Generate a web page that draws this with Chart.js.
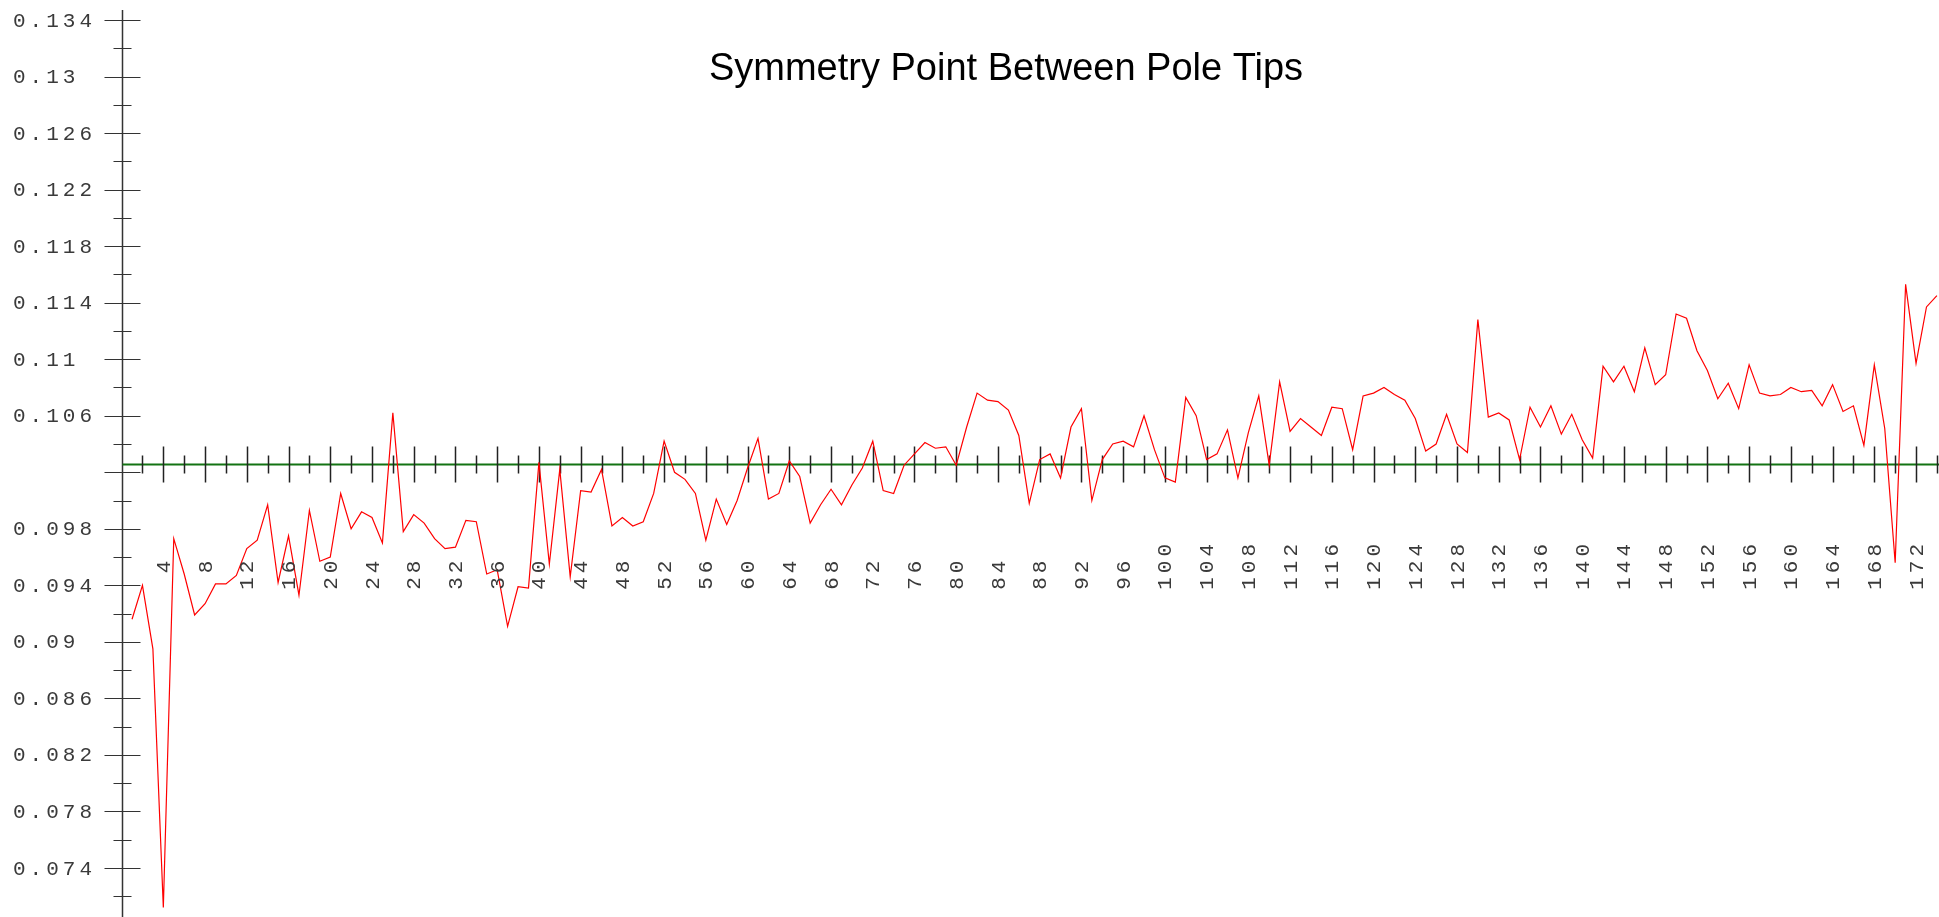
<!DOCTYPE html>
<html>
<head>
<meta charset="utf-8">
<script src="https://cdn.jsdelivr.net/npm/chart.js@4.4.1/dist/chart.umd.min.js"></script>
<style>
  html, body { margin: 0; padding: 0; background: #fff; overflow: hidden; }
  #wrap { width: 1939px; height: 917px; position: relative; }
</style>
</head>
<body>
<div id="wrap"><canvas id="chart"></canvas></div>
<script>
const chartTitle = 'Symmetry Point Between Pole Tips';

// measured value for samples 1..174
const values = [
  0.0916, 0.0940, 0.0895, 0.0712, 0.0973, 0.0948, 0.0919, 0.0927, 0.0941, 0.0941,
  0.0947, 0.0966, 0.0972, 0.0997, 0.0942, 0.0975, 0.0933, 0.0993, 0.0957, 0.0960,
  0.1005, 0.0980, 0.0992, 0.0988, 0.0970, 0.1062, 0.0978, 0.0990, 0.0984, 0.0973,
  0.0966, 0.0967, 0.0986, 0.0985, 0.0948, 0.0951, 0.0911, 0.0939, 0.0938, 0.1027,
  0.0955, 0.1022, 0.0946, 0.1007, 0.1006, 0.1022, 0.0982, 0.0988, 0.0982, 0.0985,
  0.1005, 0.1042, 0.1020, 0.1015, 0.1005, 0.0972, 0.1001, 0.0983, 0.1000, 0.1023,
  0.1044, 0.1001, 0.1005, 0.1028, 0.1017, 0.0984, 0.0997, 0.1008, 0.0997, 0.1011,
  0.1023, 0.1042, 0.1007, 0.1005, 0.1025, 0.1033, 0.1041, 0.1037, 0.1038, 0.1025,
  0.1052, 0.1076, 0.1071, 0.1070, 0.1064, 0.1046, 0.0998, 0.1029, 0.1033, 0.1016,
  0.1052, 0.1065, 0.1000, 0.1029, 0.1040, 0.1042, 0.1038, 0.1060, 0.1036, 0.1016,
  0.1013, 0.1073, 0.1060, 0.1029, 0.1033, 0.1050, 0.1016, 0.1048, 0.1074, 0.1025,
  0.1084, 0.1049, 0.1058, 0.1052, 0.1046, 0.1066, 0.1065, 0.1036, 0.1074, 0.1076,
  0.1080, 0.1075, 0.1071, 0.1058, 0.1035, 0.1040, 0.1061, 0.1040, 0.1034, 0.1128,
  0.1059, 0.1062, 0.1057, 0.1029, 0.1066, 0.1052, 0.1067, 0.1047, 0.1061, 0.1043,
  0.1030, 0.1095, 0.1084, 0.1095, 0.1077, 0.1108, 0.1082, 0.1089, 0.1132, 0.1129,
  0.1106, 0.1092, 0.1072, 0.1083, 0.1065, 0.1096, 0.1076, 0.1074, 0.1075, 0.1080,
  0.1077, 0.1078, 0.1067, 0.1082, 0.1063, 0.1067, 0.1039, 0.1096, 0.1051, 0.0956,
  0.1153, 0.1097, 0.1137, 0.1145
];

// y axis: labelled (long) ticks and the short ones between them
const yMajorTicks = [0.074, 0.078, 0.082, 0.086, 0.090, 0.094, 0.098, 0.102,
                     0.106, 0.110, 0.114, 0.118, 0.122, 0.126, 0.130, 0.134];
const yTickLabels = ['0.074', '0.078', '0.082', '0.086', '0.09', '0.094', '0.098', '',
                     '0.106', '0.11', '0.114', '0.118', '0.122', '0.126', '0.13', '0.134'];
const yMinorTicks = [0.072, 0.076, 0.080, 0.084, 0.088, 0.092, 0.096, 0.100,
                     0.104, 0.108, 0.112, 0.116, 0.120, 0.124, 0.128, 0.132];

// x axis
const xMajorTicks = [4, 8, 12, 16, 20, 24, 28, 32, 36, 40, 44, 48, 52, 56, 60, 64, 68, 72,
                     76, 80, 84, 88, 92, 96, 100, 104, 108, 112, 116, 120, 124, 128, 132,
                     136, 140, 144, 148, 152, 156, 160, 164, 168, 172];
const xMinorTicks = [2, 6, 10, 14, 18, 22, 26, 30, 34, 38, 42, 46, 50, 54, 58, 62, 66, 70,
                     74, 78, 82, 86, 90, 94, 98, 102, 106, 110, 114, 118, 122, 126, 130,
                     134, 138, 142, 146, 150, 154, 158, 162, 166, 170, 174];

const xAxisAt = 0.1026;   // level where the horizontal axis crosses

const AXIS_COLOR = '#333333';
const LABEL_COLOR = '#3a3a3a';
const MONO = '"Liberation Mono", "Courier New", monospace';

const axesPlugin = {
  id: 'crossAxes',
  beforeDatasetsDraw(chart) {
    const ctx = chart.ctx;
    const xs = chart.scales.x, ys = chart.scales.y;
    const area = chart.chartArea;
    const x0 = Math.round(xs.getPixelForValue(0)) + 0.5;
    const yAx = Math.round(ys.getPixelForValue(xAxisAt)) + 0.5;

    ctx.save();
    ctx.strokeStyle = AXIS_COLOR;
    ctx.lineWidth = 1.5;

    // vertical axis
    ctx.beginPath();
    ctx.moveTo(x0, area.top);
    ctx.lineTo(x0, area.bottom);
    ctx.stroke();

    // y ticks, crossing the axis
    ctx.lineWidth = 1.2;
    ctx.beginPath();
    yMajorTicks.forEach(v => {
      const py = Math.round(ys.getPixelForValue(v)) + 0.5;
      ctx.moveTo(x0 - 18, py); ctx.lineTo(x0 + 18, py);
    });
    yMinorTicks.forEach(v => {
      const py = Math.round(ys.getPixelForValue(v)) + 0.5;
      ctx.moveTo(x0 - 9, py); ctx.lineTo(x0 + 9, py);
    });
    ctx.stroke();

    // horizontal axis: grey line with the green level line on top
    ctx.lineWidth = 1;
    ctx.beginPath();
    ctx.moveTo(x0, yAx); ctx.lineTo(area.right, yAx);
    ctx.stroke();
    ctx.strokeStyle = '#137313';
    ctx.lineWidth = 2;
    ctx.beginPath();
    ctx.moveTo(x0, yAx); ctx.lineTo(area.right, yAx);
    ctx.stroke();

    // x ticks
    ctx.strokeStyle = '#222222';
    ctx.lineWidth = 1.5;
    ctx.beginPath();
    xMajorTicks.forEach(v => {
      const px = Math.round(xs.getPixelForValue(v)) + 0.5;
      ctx.moveTo(px, yAx - 18); ctx.lineTo(px, yAx + 18);
    });
    xMinorTicks.forEach(v => {
      const px = Math.round(xs.getPixelForValue(v)) + 0.5;
      ctx.moveTo(px, yAx - 9); ctx.lineTo(px, yAx + 9);
    });
    ctx.stroke();
    ctx.restore();
  },
  afterDraw(chart) {
    const ctx = chart.ctx;
    const xs = chart.scales.x, ys = chart.scales.y;
    const yAx = ys.getPixelForValue(xAxisAt);

    ctx.save();
    ctx.fillStyle = LABEL_COLOR;
    ctx.font = '21px ' + MONO;
    ctx.letterSpacing = '4px';

    // y labels, left aligned at the canvas edge
    ctx.textAlign = 'left';
    ctx.textBaseline = 'middle';
    yMajorTicks.forEach((v, i) => {
      if (!yTickLabels[i]) return;
      ctx.fillText(yTickLabels[i], 13, ys.getPixelForValue(v) + 1);
    });

    // x labels, rotated to read upwards, starting below the axis
    xMajorTicks.forEach(v => {
      const txt = String(v).length < 2 ? ' ' + v : String(v);
      ctx.save();
      ctx.translate(xs.getPixelForValue(v) + 1, yAx + 126);
      ctx.rotate(-Math.PI / 2);
      ctx.fillText(txt, 0, 0);
      ctx.restore();
    });

    // title
    ctx.letterSpacing = '0px';
    ctx.fillStyle = '#000000';
    ctx.font = '38px "Liberation Sans", Arial, sans-serif';
    ctx.textAlign = 'center';
    ctx.textBaseline = 'alphabetic';
    ctx.fillText(chartTitle, 1006, 80);
    ctx.restore();
  }
};

new Chart(document.getElementById('chart'), {
  type: 'line',
  data: {
    datasets: [{
      data: values.map((v, i) => ({ x: i + 1, y: v })),
      borderColor: '#ff0000',
      borderWidth: 1.2,
      pointRadius: 0,
      tension: 0,
      fill: false
    }]
  },
  options: {
    responsive: true,
    maintainAspectRatio: false,
    animation: false,
    layout: { padding: { left: 121.6, top: 10, right: 0, bottom: 0 } },
    plugins: {
      legend: { display: false },
      tooltip: { enabled: false },
      title: { display: false }
    },
    scales: {
      x: { type: 'linear', min: 0, max: 174.2, display: false },
      y: { type: 'linear', min: 0.07053, max: 0.13471, display: false }
    }
  },
  plugins: [axesPlugin]
});
</script>
</body>
</html>
